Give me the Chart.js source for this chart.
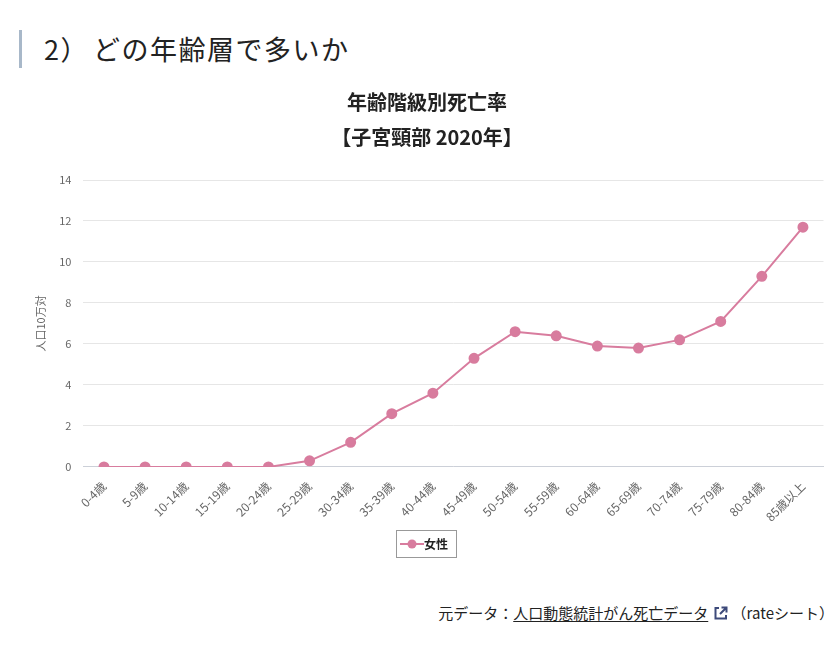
<!DOCTYPE html>
<html lang="ja">
<head>
<meta charset="utf-8">
<script src="https://cdn.jsdelivr.net/npm/chart.js@4.4.1/dist/chart.umd.min.js"></script>
<style>
  body { margin: 0; background: #fff; font-family: "Noto Sans CJK JP", "Noto Sans", sans-serif; color: #222; }
  .heading { position: absolute; left: 19px; top: 30px; height: 38px; border-left: 3px solid #a8b8c9; padding-left: 22px; font-size: 27px; line-height: 38px; color: #222; letter-spacing: 1.5px; }
  .heading .paren { margin-right: 4px; }
  #wrap { position: absolute; left: 30px; top: 85px; width: 800px; height: 475px; }
  .source { position: absolute; right: 1px; top: 602px; font-size: 15px; color: #222; }
  .source a { color: #222; text-decoration: underline; text-underline-offset: 2px; }
  .source svg { position: relative; top: 2px; margin-left: 5px; }
</style>
</head>
<body>
<div class="heading">2<span class="paren">）</span>どの年齢層で多いか</div>
<div id="wrap"><canvas id="myChart" width="800" height="475"></canvas></div>
<div class="source">元データ：<a>人口動態統計がん死亡データ</a><svg width="15" height="15" viewBox="0 0 15 15"><path d="M6 2H2.5v10.5H13V9" fill="none" stroke="#3d4a7a" stroke-width="2"/><path d="M8.5 1.5H13.5V6.5M13.5 1.5L7 8" fill="none" stroke="#3d4a7a" stroke-width="2"/></svg> （rateシート）</div>
<script>
const ageLabels = ['0-4歳', '5-9歳', '10-14歳', '15-19歳', '20-24歳', '25-29歳', '30-34歳', '35-39歳', '40-44歳',
    '45-49歳', '50-54歳', '55-59歳', '60-64歳', '65-69歳', '70-74歳', '75-79歳', '80-84歳', '85歳以上']
const femaleRate = [0, 0, 0, 0, 0, 0.3, 1.2, 2.6, 3.6, 5.3, 6.6, 6.4, 5.9, 5.8, 6.2, 7.1, 9.3, 11.7]
const titleLines = ['年齢階級別死亡率', '【子宮頸部 2020年】']
const seriesName = '女性'
const pink = '#d87c9e'

// legend icon: line through a dot
const icon = document.createElement('canvas')
icon.width = 24; icon.height = 10
const ic = icon.getContext('2d')
ic.strokeStyle = pink; ic.lineWidth = 2
ic.beginPath(); ic.moveTo(0, 5); ic.lineTo(24, 5); ic.stroke()
ic.fillStyle = pink
ic.beginPath(); ic.arc(12, 5, 4.5, 0, Math.PI * 2); ic.fill()

const legendBox = {
    id: 'legendBox',
    afterDraw(chart) {
        const lg = chart.legend
        if (!lg || !lg.legendHitBoxes.length) return
        const h = lg.legendHitBoxes[0]
        const c = chart.ctx
        c.save()
        c.strokeStyle = '#999'
        c.lineWidth = 1
        c.strokeRect(Math.round(h.left) - 9.5, Math.round(h.top) - 7.5, Math.round(h.width) + 18, Math.round(h.height) + 15)
        c.restore()
    }
}

try {
    var ctx = document.getElementById('myChart').getContext('2d')
    var myChart = new Chart(ctx, {
        type: 'line',
        data: {
            labels: ageLabels,
            datasets: [{
                label: seriesName,
                data: femaleRate,
                borderColor: pink,
                backgroundColor: pink,
                pointBackgroundColor: pink,
                pointBorderColor: pink,
                pointRadius: 4.5,
                borderWidth: 2,
                tension: 0
            }]
        },
        options: {
            responsive: false,
            animation: false,
            plugins: {
                title: {
                    display: true,
                    text: titleLines,
                    font: { size: 20, weight: 'bold', family: '"Noto Sans CJK JP"', lineHeight: 1.75 },
                    color: '#222',
                    padding: { top: 0, bottom: 25 }
                },
                legend: {
                    position: 'bottom',
                    labels: {
                        usePointStyle: true,
                        color: '#222',
                        font: { size: 12, weight: 'bold', family: '"Noto Sans CJK JP"' },
                        generateLabels(chart) {
                            return [{ text: seriesName, pointStyle: icon, fillStyle: pink, strokeStyle: pink, datasetIndex: 0, fontColor: '#222' }]
                        }
                    }
                },
                tooltip: { enabled: false }
            },
            scales: {
                y: {
                    min: 0,
                    max: 14,
                    ticks: { stepSize: 2, color: '#666', font: { size: 11, family: '"Noto Sans CJK JP"' }, padding: 12 },
                    grid: { color: '#e6e6e6', drawTicks: false },
                    border: { display: false },
                    title: { display: true, text: '人口10万対', color: '#666', padding: { top: 4, bottom: 0 }, font: { size: 11, family: '"Noto Sans CJK JP"' } }
                },
                x: {
                    offset: true,
                    grid: { display: false },
                    border: { color: '#ccd0d8' },
                    ticks: { color: '#666', maxRotation: 45, minRotation: 45, padding: 4, font: { size: 12, family: '"Noto Sans CJK JP"' } }
                }
            },
            layout: { padding: { left: 0, right: 6, bottom: 0 } }
        },
        plugins: [legendBox]
    })
} catch (error) {
    console.log(error)
}
</script>
</body>
</html>
